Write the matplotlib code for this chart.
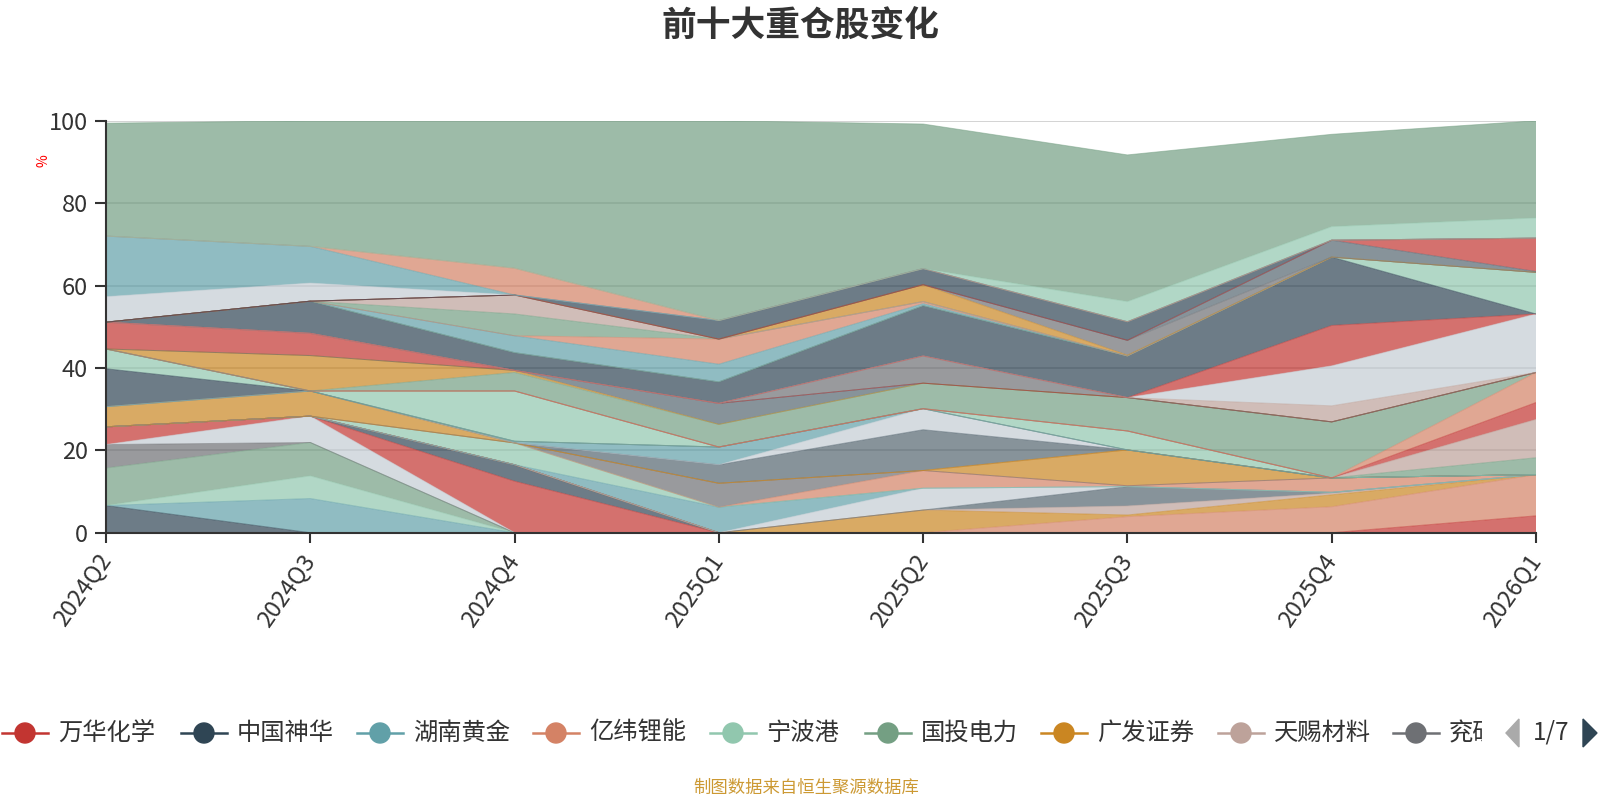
import matplotlib
matplotlib.use("Agg")
import matplotlib.pyplot as plt
from matplotlib.patches import Circle, Polygon
from matplotlib.lines import Line2D
from matplotlib.transforms import Bbox
import numpy as np

plt.rcParams['font.family'] = ['Noto Sans CJK SC', 'DejaVu Sans']

quarters = ["2024Q2", "2024Q3", "2024Q4", "2025Q1", "2025Q2", "2025Q3", "2025Q4", "2026Q1"]

# echarts default palette
palette = {
    "red": "#c23531", "slate": "#2f4554", "teal": "#61a0a8", "salmon": "#d48265",
    "ltgreen": "#91c7ae", "green": "#749f83", "dkorange": "#ca8622", "tan": "#bda29a",
    "gray": "#6e7074", "bluegray": "#546570", "pale": "#c4ccd3",
}

# stacking order, bottom to top: (colour, weight % per quarter)
layers = [
    ("slate",    [6.6, 0, 0, 0, 0, 0, 0, 0]),
    ("teal",     [0, 8.3, 0, 0, 0, 0, 0, 0]),
    ("ltgreen",  [0, 5.5, 0, 0, 0, 0, 0, 0]),
    ("green",    [9.1, 8.1, 0, 0, 0, 0, 0, 0]),
    ("gray",     [5.7, 0, 0, 0, 0, 0, 0, 0]),
    ("pale",     [0, 6.4, 0, 0, 0, 0, 0, 0]),
    ("red",      [4.3, 0, 12.5, 0, 0, 0, 0, 0]),
    ("slate",    [0, 0, 4.0, 0, 0, 0, 0, 0]),
    ("red",      [0, 0, 0, 0, 0, 0, 0, 4.1]),
    ("salmon",   [0, 0, 0, 0, 0, 3.9, 6.3, 10.0]),
    ("dkorange", [0, 0, 0, 0, 5.5, 0.4, 2.9, 0]),
    ("tan",      [0, 0, 0, 0, 0, 2.2, 0.4, 0]),
    ("bluegray", [0, 0, 0, 0, 0, 4.7, 0.2, 0]),
    ("pale",     [0, 0, 0, 0, 5.3, 0, 0, 0]),
    ("teal",     [0, 0, 0, 6.2, 0, 0, 0, 0]),
    ("ltgreen",  [0, 0, 5.3, 0, 0, 0, 0, 0]),
    ("salmon",   [0, 0, 0, 0, 4.3, 0.2, 3.5, 0]),
    ("gray",     [0, 0, 0, 5.8, 0, 0, 0, 0]),
    ("dkorange", [0, 0, 0, 0, 0, 8.7, 0, 0]),
    ("dkorange", [4.9, 6.1, 0, 0, 0, 0, 0, 0]),
    ("bluegray", [0, 0, 0, 4.5, 9.9, 0, 0, 0]),
    ("pale",     [0, 0, 0, 0, 5.1, 0, 0, 0]),
    ("teal",     [0, 0, 0.4, 4.3, 0, 0, 0, 0]),
    ("slate",    [9.2, 0, 0, 0, 0, 0, 0, 0]),
    ("ltgreen",  [4.8, 0, 0, 0, 0, 0, 0, 0]),
    ("ltgreen",  [0, 0, 12.2, 0, 0, 4.6, 0, 0]),
    ("green",    [0, 0, 0, 0, 0, 0, 0, 4.1]),
    ("tan",      [0, 0, 0, 0, 0, 0, 0, 9.3]),
    ("red",      [0, 0, 0, 0, 0, 0, 0, 4.1]),
    ("salmon",   [0, 0, 0, 0, 0, 0, 0, 7.3]),
    ("green",    [0, 0, 4.5, 5.5, 6.2, 8.1, 13.6, 0]),
    ("dkorange", [0, 8.6, 0.5, 0, 0, 0, 0, 0]),
    ("bluegray", [0, 0, 0, 5.1, 0, 0, 0, 0]),
    ("red",      [6.5, 5.4, 0, 0, 0, 0, 0, 0]),
    ("gray",     [0, 0, 0, 0, 6.6, 0, 0, 0]),
    ("tan",      [0, 0, 0, 0, 0, 0, 3.9, 0]),
    ("pale",     [0, 0, 0, 0, 0, 0, 9.7, 14.2]),
    ("red",      [0, 0, 0, 0, 0, 0, 9.8, 0]),
    ("slate",    [0, 7.8, 4.3, 5.2, 12.2, 10.1, 16.6, 0]),
    ("ltgreen",  [0, 0, 0, 0, 0, 0, 0, 10.1]),
    ("teal",     [0, 0, 4.1, 4.3, 0.5, 0, 0, 0]),
    ("salmon",   [0, 0, 0, 6.1, 0.5, 0, 0, 0]),
    ("green",    [0, 0, 5.3, 0, 0, 0, 0, 0]),
    ("tan",      [0, 0, 4.6, 0, 0, 0, 0, 0]),
    ("dkorange", [0, 0, 0, 0, 4.1, 0.2, 0, 0]),
    ("gray",     [0, 0, 0, 0, 0, 3.6, 0, 0]),
    ("bluegray", [0, 0, 0, 0, 0, 0, 4.1, 0.2]),
    ("red",      [0, 0, 0, 0, 0, 0, 0, 8.1]),
    ("slate",    [0, 0, 0, 4.5, 3.9, 4.5, 0, 0]),
    ("pale",     [6.2, 4.4, 0, 0, 0, 0, 0, 0]),
    ("teal",     [14.7, 8.9, 0, 0, 0, 0, 0, 0]),
    ("salmon",   [0, 0, 6.5, 0, 0, 0, 0, 0]),
    ("ltgreen",  [0, 0, 0, 0, 0, 4.9, 3.3, 4.9]),
    ("green",    [27.4, 30.5, 35.8, 48.5, 35.1, 35.6, 22.4, 23.6]),
]

# first legend page; the last name is cut off by the pager
legend_names = ["万华化学", "中国神华", "湖南黄金", "亿纬锂能", "宁波港",
                "国投电力", "广发证券", "天赐材料", "兖矿"]
legend_colors = ["red", "slate", "teal", "salmon", "ltgreen",
                 "green", "dkorange", "tan", "gray"]

fig = plt.figure(figsize=(16, 8), dpi=100)
ax = fig.add_axes([0.06625, 0.3341, 0.89375, 0.515])

x = np.arange(len(quarters))
vals = np.array([v for _, v in layers], dtype=float)
cols = [palette[c] for c, _ in layers]

ax.stackplot(x, vals, colors=cols, alpha=0.7, linewidth=0, zorder=2)
tops = np.cumsum(vals, axis=0)
for top, c in zip(tops, cols):
    ax.plot(x, top, color=c, lw=0.7, alpha=0.5, zorder=3)

ax.set_xlim(0, len(quarters) - 1)
ax.set_ylim(0, 100)
ax.set_yticks([0, 20, 40, 60, 80, 100])
ax.set_xticks(x)
ax.set_xticklabels(quarters, rotation=55, ha='right', va='center',
                   rotation_mode='anchor')
ax.yaxis.grid(True, color='#cccccc', lw=1.2, zorder=0)
ax.set_axisbelow(True)
for s in ['top', 'right']:
    ax.spines[s].set_visible(False)
for s in ['left', 'bottom']:
    ax.spines[s].set_color('#333333')
    ax.spines[s].set_linewidth(1.5)
    ax.spines[s].set_zorder(5)
ax.tick_params(axis='y', length=8, width=1.5, color='#333333', labelsize=17,
               labelcolor='#333333', pad=5)
ax.tick_params(axis='x', length=7, width=1.5, color='#333333', labelsize=17,
               labelcolor='#333333', pad=10)

fig.text(44 / 1600, 1 - 161 / 800, "%", color='red', fontsize=10,
         rotation=90, ha='center', va='center')
fig.text(0.5, 1 - 26 / 800, "前十大重仓股变化", fontsize=25, fontweight='bold',
         color='#333333', ha='center', va='center')
fig.text(806 / 1600, 1 - 788 / 800, "制图数据来自恒生聚源数据库", fontsize=12.5,
         color='#cc9933', ha='center', va='center')

# legend drawn in pixel coordinates
lg = fig.add_axes([0, 0, 1, 1])
lg.set_xlim(0, 1600)
lg.set_ylim(800, 0)
lg.axis('off')
marks = [25, 204, 380, 556, 733, 888, 1064, 1241, 1416]
ly = 733
for mx, name, c in zip(marks, legend_names, legend_colors):
    lg.add_line(Line2D([mx - 23, mx + 23], [ly, ly], color=palette[c], lw=1.8))
    lg.add_patch(Circle((mx, ly), 10, color=palette[c]))
    t = lg.text(mx + 33, ly, name, fontsize=17.5, color='#333333', va='center', ha='left')
    if name == legend_names[-1]:
        t.set_clip_box(Bbox([[0, 0], [1482, 800]]))
        t.set_clip_on(True)
lg.add_patch(Polygon([[1519, ly - 14], [1519, ly + 14], [1506, ly]], closed=True,
                     color='#aaaaaa'))
lg.text(1551, ly, "1/7", fontsize=17.5, color='#333333', ha='center', va='center')
lg.add_patch(Polygon([[1583, ly - 14], [1583, ly + 14], [1597, ly]], closed=True,
                     color='#2f4554'))

fig.savefig("out.png", dpi=100)
